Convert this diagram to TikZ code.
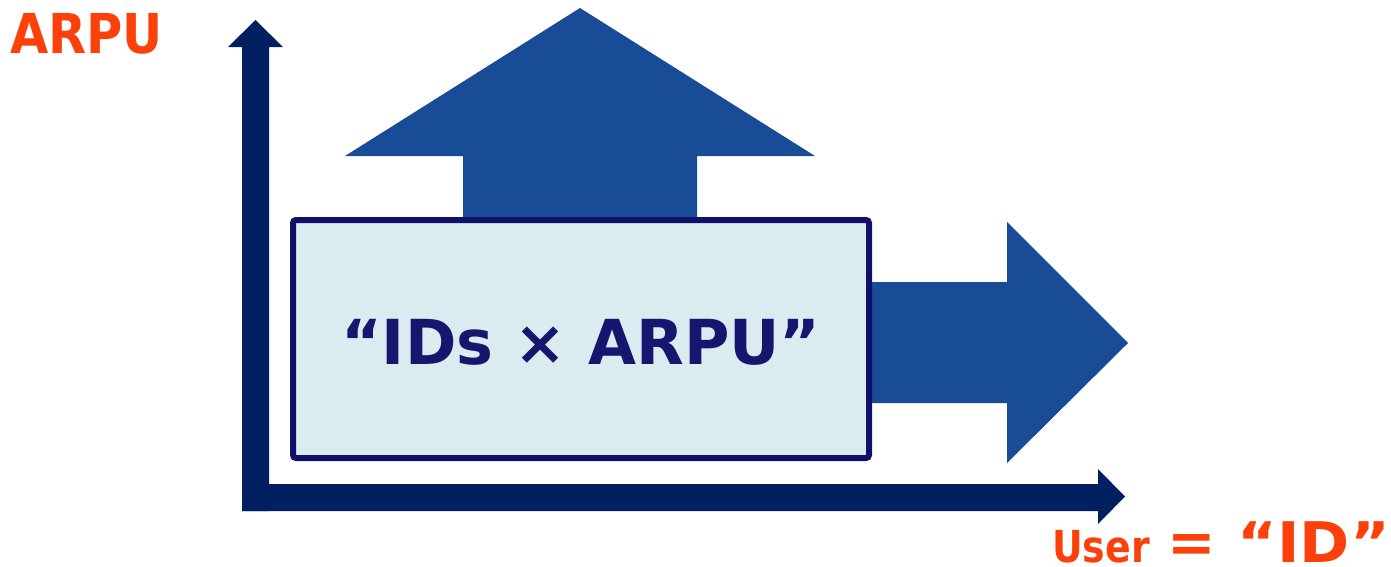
\documentclass[tikz,border=0pt]{standalone}
\usepackage{fontspec}
\setmainfont{DejaVu Sans}
\definecolor{axisblue}{HTML}{002060}
\definecolor{bigblue}{HTML}{184C96}
\definecolor{boxedge}{HTML}{10106A}
\definecolor{boxfill}{HTML}{DAECEF}
\definecolor{boxtext}{HTML}{16166E}
\definecolor{orangered}{HTML}{FC400A}
\tikzset{
  axisarrow/.style={fill=axisblue, draw=none},
  bigarrow/.style={fill=bigblue, draw=none},
  mainbox/.style={draw=boxedge, line width=6pt, fill=boxfill, rounded corners=3pt,
    minimum width=576pt, minimum height=238pt, inner sep=0pt},
  lbl/.style={text=orangered, font=\bfseries, inner sep=0pt},
}
\begin{document}
\begin{tikzpicture}[x=1pt,y=-1pt]
\useasboundingbox (0,0) rectangle (1391,566);
% big up arrow
\fill[bigblue] (463,240) -- (463,156) -- (345,156) -- (580,8) -- (815,156) -- (697,156) -- (697,240) -- cycle;
% big right arrow
\fill[bigblue] (850,282) -- (1007,282) -- (1007,222) -- (1128,343) -- (1007,463) -- (1007,403) -- (850,403) -- cycle;
% vertical axis
\fill[axisblue] (242,511) -- (242,47) -- (228,47) -- (255.5,20) -- (283,47) -- (269,47) -- (269,511) -- cycle;
% horizontal axis
\fill[axisblue] (242,484) -- (1098,484) -- (1098,469) -- (1125,496.5) -- (1098,524) -- (1098,511) -- (242,511) -- cycle;
% box
\node[mainbox] (box) at (581,339) {};
\node[text=boxtext, font=\fontsize{62}{70}\selectfont\bfseries, inner sep=0pt] (formula) at (581,342) {“IDs × ARPU”};
% labels
\node[lbl, font=\fontsize{55}{62}\selectfont\bfseries, anchor=base west] (arpu) at (10,53) {\scalebox{0.9}[1]{ARPU}};
\node[lbl, font=\fontsize{44}{50}\selectfont\bfseries, anchor=base west] (user) at (1052,562) {\scalebox{0.86}[1]{User}};
\node[lbl, font=\fontsize{58}{64}\selectfont\bfseries, anchor=base] (eq) at (1192,562) {=};
\node[lbl, font=\fontsize{56}{64}\selectfont\bfseries, anchor=base east] (id) at (1390,562) {\scalebox{1.08}[1]{“ID”}};
\end{tikzpicture}
\end{document}
